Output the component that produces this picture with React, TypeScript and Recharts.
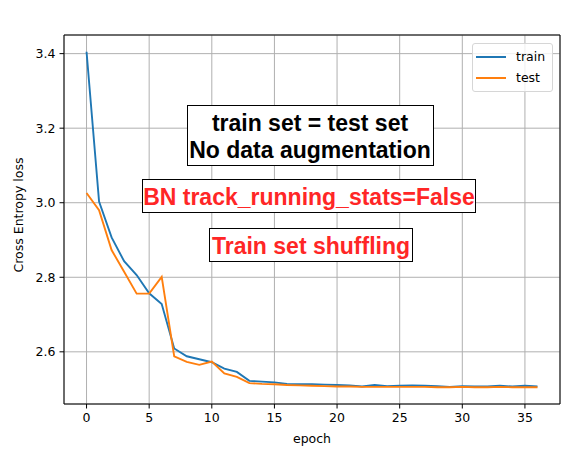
import { CartesianGrid, Customized, Legend, Line, LineChart, ReferenceArea, XAxis, YAxis } from 'recharts'

const epochs = [
  0, 1, 2, 3, 4, 5, 6, 7, 8, 9, 10, 11, 12, 13, 14, 15, 16, 17, 18, 19, 20, 21, 22, 23, 24, 25, 26,
  27, 28, 29, 30, 31, 32, 33, 34, 35, 36,
]

const trainLoss = [
  3.405, 3.003, 2.907, 2.843, 2.806, 2.757, 2.728, 2.609, 2.588, 2.58, 2.572, 2.555, 2.546, 2.522,
  2.52, 2.518, 2.514, 2.513, 2.513, 2.512, 2.511, 2.51, 2.507, 2.511, 2.508, 2.509, 2.51, 2.509,
  2.508, 2.506, 2.508, 2.507, 2.507, 2.509, 2.507, 2.509, 2.507,
]

const testLoss = [
  3.026, 2.98, 2.873, 2.815, 2.756, 2.756, 2.801, 2.588, 2.573, 2.565, 2.574, 2.542, 2.533, 2.516,
  2.514, 2.513, 2.511, 2.51, 2.509, 2.508, 2.507, 2.507, 2.506, 2.506, 2.506, 2.506, 2.506, 2.506,
  2.505, 2.505, 2.506, 2.505, 2.505, 2.506, 2.505, 2.505, 2.505,
]

const xTicks = [0, 5, 10, 15, 20, 25, 30, 35]
const yTicks = [2.6, 2.8, 3.0, 3.2, 3.4]
const xDomain: [number, number] = [-1.8, 37.8]
const yDomain: [number, number] = [2.46, 3.45]

const BLUE = '#1f77b4'
const ORANGE = '#ff7f0e'
const RED = '#ff2626'
const TICK_FONT = 'DejaVu Sans, sans-serif'
const NOTE_FONT = 'Liberation Sans, Arial, sans-serif'

const data = epochs.map((epoch, i) => ({ epoch, train: trainLoss[i], test: testLoss[i] }))

// text boxes placed in figure pixels, like ax.text(..., bbox=...) in the original
function Annotations() {
  const noteStyle = { fontFamily: NOTE_FONT, fontWeight: 700, fontSize: 23 }
  return (
    <g>
      <rect x={187.5} y={105.5} width={246} height={60} fill="#fff" stroke="#000" />
      <text x={310} y={123} textAnchor="middle" dominantBaseline="central" fill="#000" style={noteStyle}>
        train set = test set
      </text>
      <text x={310} y={150} textAnchor="middle" dominantBaseline="central" fill="#000" style={noteStyle}>
        No data augmentation
      </text>

      <rect x={142.5} y={179.5} width={333} height={33} fill="#fff" stroke="#000" />
      <text x={309} y={197} textAnchor="middle" dominantBaseline="central" fill={RED} style={noteStyle}>
        BN track_running_stats=False
      </text>

      <rect x={209.5} y={228.5} width={203} height={33} fill="#fff" stroke="#000" />
      <text x={311} y={246} textAnchor="middle" dominantBaseline="central" fill={RED} style={noteStyle}>
        Train set shuffling
      </text>

      <text
        x={18.5}
        y={215}
        transform="rotate(-90 18.5 215)"
        textAnchor="middle"
        dominantBaseline="central"
        style={{ fontFamily: TICK_FONT, fontSize: 12.5 }}
      >
        Cross Entropy loss
      </text>
      <text x={312} y={438} textAnchor="middle" dominantBaseline="central" style={{ fontFamily: TICK_FONT, fontSize: 12.5 }}>
        epoch
      </text>
    </g>
  )
}

function LegendBox() {
  const items = [
    { label: 'train', color: BLUE },
    { label: 'test', color: ORANGE },
  ]
  return (
    <div
      style={{
        border: '1px solid #d6d6d6',
        borderRadius: 3,
        background: 'rgba(255,255,255,0.8)',
        padding: '3px 6px 3px 3px',
        fontFamily: TICK_FONT,
        fontSize: 12.5,
        lineHeight: '20.5px',
      }}
    >
      {items.map((it) => (
        <div key={it.label} style={{ display: 'flex', alignItems: 'center' }}>
          <span style={{ display: 'inline-block', width: 30, height: 2, background: it.color, marginRight: 10 }} />
          <span>{it.label}</span>
        </div>
      ))}
    </div>
  )
}

export default function App() {
  return (
    <div style={{ position: 'absolute', left: 0, top: 0, width: 576, height: 449, background: '#fff' }}>
      <LineChart width={576} height={449} data={data} margin={{ top: 35, right: 16, bottom: 0, left: 0 }}>
        <CartesianGrid stroke="#b0b0b0" strokeWidth={1} />
        <XAxis
          dataKey="epoch"
          type="number"
          domain={xDomain}
          ticks={xTicks}
          allowDataOverflow
          height={45}
          axisLine={false}
          tickSize={4.5}
          tickMargin={5}
          tickLine={{ stroke: '#000' }}
          tick={{ fill: '#000', fontSize: 12.5, fontFamily: TICK_FONT }}
        />
        <YAxis
          type="number"
          domain={yDomain}
          ticks={yTicks}
          allowDataOverflow
          width={64}
          axisLine={false}
          tickSize={4.5}
          tickMargin={4}
          tickLine={{ stroke: '#000' }}
          tickFormatter={(v: number) => v.toFixed(1)}
          tick={{ fill: '#000', fontSize: 12.5, fontFamily: TICK_FONT }}
        />
        <Line
          type="linear"
          dataKey="train"
          stroke={BLUE}
          strokeWidth={1.9}
          dot={false}
          activeDot={false}
          isAnimationActive={false}
        />
        <Line
          type="linear"
          dataKey="test"
          stroke={ORANGE}
          strokeWidth={1.9}
          dot={false}
          activeDot={false}
          isAnimationActive={false}
        />
        <ReferenceArea
          x1={xDomain[0]}
          x2={xDomain[1]}
          y1={yDomain[0]}
          y2={yDomain[1]}
          fill="none"
          stroke="#000"
          strokeWidth={1}
          ifOverflow="visible"
        />
        <Customized component={Annotations} />
        <Legend
          layout="vertical"
          align="center"
          verticalAlign="middle"
          wrapperStyle={{ left: 472, top: 43, width: 81 }}
          content={() => <LegendBox />}
        />
      </LineChart>
    </div>
  )
}
